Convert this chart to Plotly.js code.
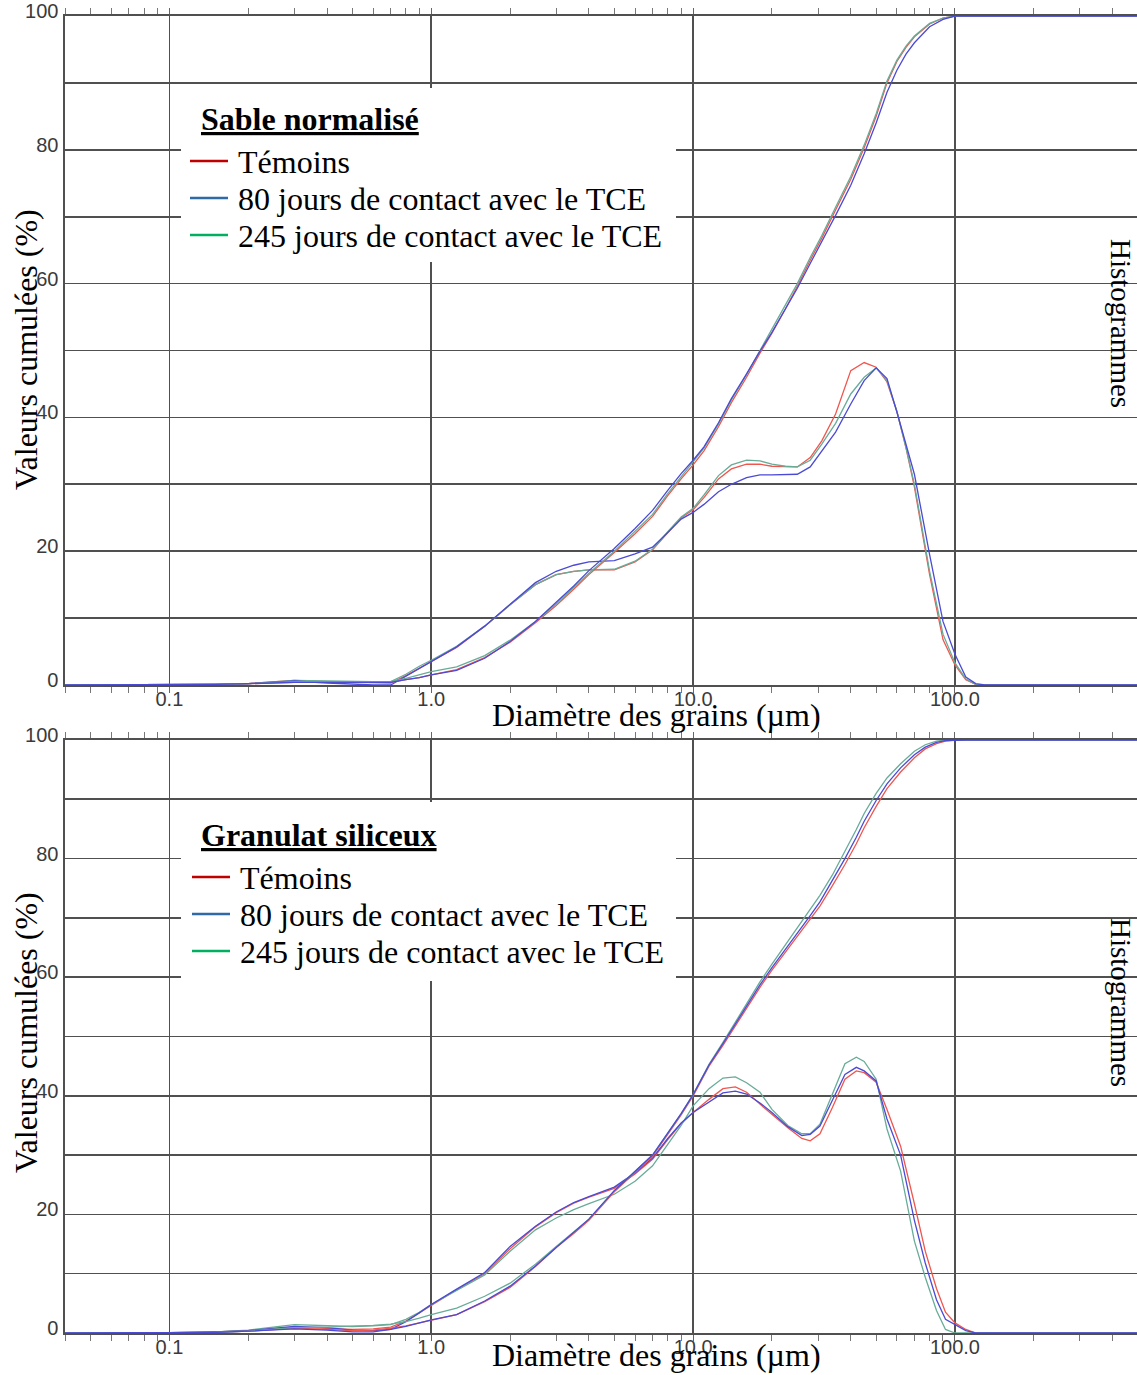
<!DOCTYPE html>
<html>
<head>
<meta charset="utf-8">
<script src="https://cdn.plot.ly/plotly-3.0.1.min.js"></script>
<style>
html,body{margin:0;padding:0;background:#ffffff;}
#chart{width:1137px;height:1375px;}
</style>
</head>
<body>
<div id="chart"></div>
<script>
// ---------------- DATA ----------------
const panelTitles = ['Sable normalisé', 'Granulat siliceux'];
const seriesNames = ['Témoins', '80 jours de contact avec le TCE', '245 jours de contact avec le TCE'];
const xAxisTitle = 'Diamètre des grains (µm)';
const yAxisTitle = 'Valeurs cumulées (%)';
const rightTitle = 'Histogrammes';

// Grain diameters (µm) – top panel (Sable normalisé)
const xSable = [0.04, 0.1, 0.15, 0.2, 0.3, 0.4, 0.5, 0.6, 0.7, 0.8, 0.9, 1.0, 1.25, 1.6, 2.0, 2.5, 3.0, 3.5, 4.0, 5.0,
  6.0, 7.0, 8.0, 9.0, 10, 11, 12.5, 14, 16, 18, 20, 22.5, 25, 28, 31, 35, 40, 45, 50, 55,
  60, 65, 70, 80, 90, 100, 110, 120, 130, 500];

const sableCumTemoins = [0, 0, 0.1, 0.2, 0.4, 0.4, 0.4, 0.4, 0.4, 0.8, 1.1, 1.5, 2.3, 4.1, 6.4, 9.3, 11.9, 14.3, 16.5, 19.8,
  22.6, 25.2, 28.3, 30.8, 32.9, 35.0, 38.6, 42.2, 46.0, 49.6, 52.6, 56.2, 59.6, 63.5, 66.8, 71.0, 75.6, 80.3, 85.0, 90.0,
  93.2, 95.3, 96.9, 98.8, 99.7, 100, 100, 100, 100, 100];
const sableCum80 = [0, 0, 0.1, 0.2, 0.4, 0.4, 0.4, 0.4, 0.4, 0.8, 1.1, 1.5, 2.2, 4.0, 6.5, 9.5, 12.3, 14.8, 17.1, 20.4,
  23.4, 26.1, 29.1, 31.6, 33.6, 35.6, 39.2, 42.8, 46.5, 49.9, 52.7, 56.1, 59.3, 63.0, 66.2, 70.2, 74.7, 79.4, 84.0, 88.6,
  91.9, 94.3, 96.0, 98.4, 99.5, 100, 100, 100, 100, 100];
const sableCum245 = [0, 0, 0.1, 0.2, 0.5, 0.5, 0.5, 0.5, 0.5, 1.0, 1.5, 2.0, 2.7, 4.4, 6.7, 9.5, 12.1, 14.5, 16.7, 20.0,
  22.9, 25.5, 28.6, 31.1, 33.2, 35.4, 39.0, 42.6, 46.4, 50.0, 53.0, 56.6, 60.0, 63.9, 67.2, 71.4, 76.0, 80.7, 85.4, 90.3,
  93.4, 95.5, 97.0, 98.9, 99.7, 100, 100, 100, 100, 100];

const sableHistTemoins = [0, 0, 0.1, 0.2, 0.7, 0.5, 0.4, 0.4, 0.3, 1.4, 2.5, 3.5, 5.6, 8.8, 12.0, 15.0, 16.5, 17.0, 17.2, 17.2,
  18.4, 20.2, 22.8, 25.0, 26.2, 28.0, 30.8, 32.3, 33.0, 33.0, 32.7, 32.6, 32.6, 34.0, 36.5, 40.5, 47.0, 48.2, 47.5, 45.3,
  40.9, 35.5, 29.6, 16.5, 6.8, 3.0, 0.8, 0.1, 0, 0];
const sableHist80 = [0, 0, 0.1, 0.2, 0.6, 0.3, 0.1, 0.0, 0.0, 1.3, 2.4, 3.5, 5.7, 8.8, 12.0, 15.3, 17.0, 17.9, 18.4, 18.6,
  19.6, 20.6, 22.8, 24.8, 25.8, 27.0, 28.9, 30.0, 31.0, 31.4, 31.4, 31.4, 31.5, 32.6, 35.0, 37.8, 42.0, 45.5, 47.4, 45.8,
  40.8, 36.0, 31.5, 19.5, 9.5, 4.6, 1.2, 0.2, 0, 0];
const sableHist245 = [0, 0, 0.1, 0.2, 0.7, 0.6, 0.5, 0.5, 0.5, 1.6, 2.8, 3.7, 5.8, 8.8, 12.0, 15.0, 16.5, 17.0, 17.2, 17.3,
  18.5, 20.3, 22.9, 25.1, 26.4, 28.4, 31.3, 32.9, 33.6, 33.5, 33.0, 32.7, 32.6, 33.6, 36.0, 39.1, 43.5, 46.0, 47.4, 45.5,
  40.9, 35.5, 30.0, 17.0, 7.6, 3.3, 0.9, 0.1, 0, 0];

// Grain diameters (µm) – bottom panel (Granulat siliceux)
const xGranulat = [0.04, 0.1, 0.15, 0.2, 0.3, 0.4, 0.5, 0.6, 0.7, 0.8, 0.9, 1.0, 1.25, 1.6, 2.0, 2.5, 3.0, 3.5, 4.0, 5.0,
  6.0, 7.0, 8.0, 9.0, 10, 11.5, 13, 14.5, 16, 18, 20, 23, 26, 28, 30.5, 34, 38, 42, 45, 50,
  55, 62, 70, 77, 85, 92, 100, 110, 120, 500];

const granCumTemoins = [0, 0, 0.1, 0.3, 0.8, 0.6, 0.4, 0.5, 0.8, 1.2, 1.7, 2.2, 3.1, 5.3, 7.7, 11.2, 14.4, 16.8, 19.0, 23.8,
  27.0, 29.8, 33.5, 36.8, 40.0, 45.0, 48.5, 51.8, 54.8, 58.3, 61.2, 64.8, 68.0, 69.8, 72.0, 75.4, 79.0, 82.5, 85.2, 88.8,
  91.8, 94.6, 97.0, 98.5, 99.4, 99.8, 100, 100, 100, 100];
const granCum80 = [0, 0, 0.1, 0.3, 0.7, 0.5, 0.2, 0.2, 0.6, 1.1, 1.7, 2.2, 3.1, 5.4, 7.9, 11.3, 14.4, 17.0, 19.2, 24.0,
  27.2, 30.0, 33.7, 37.0, 40.2, 45.2, 48.8, 52.1, 55.2, 58.7, 61.6, 65.2, 68.5, 70.4, 72.7, 76.2, 80.0, 83.6, 86.3, 89.8,
  92.6, 95.3, 97.5, 98.8, 99.6, 99.9, 100, 100, 100, 100];
const granCum245 = [0, 0, 0.1, 0.3, 0.9, 1.0, 1.1, 1.3, 1.5, 1.9, 2.5, 3.1, 4.2, 6.2, 8.4, 11.6, 14.6, 17.0, 19.2, 24.0,
  27.2, 30.0, 33.7, 37.0, 40.2, 45.3, 49.0, 52.4, 55.6, 59.2, 62.2, 66.0, 69.4, 71.3, 73.8, 77.2, 81.2, 84.9, 87.6, 91.0,
  93.6, 96.0, 98.1, 99.2, 99.8, 100, 100, 100, 100, 100];

const granHistTemoins = [0, 0.05, 0.2, 0.4, 1.0, 0.8, 0.6, 0.7, 1.0, 2.0, 3.4, 4.7, 7.3, 10.0, 14.2, 17.9, 20.3, 21.9, 22.9, 24.4,
  26.8, 29.3, 32.6, 35.3, 37.2, 39.4, 41.2, 41.5, 40.6, 38.6, 36.9, 34.6, 32.8, 32.4, 33.6, 38.0, 42.8, 44.2, 43.9, 42.3,
  37.7, 31.5, 21.8, 13.8, 7.5, 3.5, 1.7, 0.6, 0, 0];
const granHist80 = [0, 0.05, 0.2, 0.4, 1.1, 0.9, 0.5, 0.4, 0.6, 1.9, 3.4, 4.8, 7.4, 10.2, 14.6, 18.0, 20.4, 22.0, 23.0, 24.6,
  27.0, 29.5, 32.8, 35.4, 37.2, 38.9, 40.5, 40.8, 40.3, 38.8, 37.2, 34.8, 33.3, 33.5, 34.9, 39.2, 43.6, 44.8, 44.2, 42.5,
  36.1, 30.0, 19.0, 11.8, 5.6, 2.3, 1.4, 0.4, 0, 0];
const granHist245 = [0, 0.05, 0.2, 0.5, 1.4, 1.2, 1.1, 1.2, 1.4, 2.3, 3.5, 4.8, 7.2, 9.8, 13.8, 17.4, 19.4, 20.8, 21.8, 23.4,
  25.6, 28.2, 31.8, 35.0, 38.3, 41.2, 43.0, 43.2, 42.2, 40.6, 37.7, 35.0, 33.6, 33.6, 35.2, 40.4, 45.4, 46.5, 45.8, 42.8,
  34.4, 27.3, 15.5, 9.4, 3.8, 0.6, 0, 0, 0, 0];

// ---------------- STYLE ----------------
const lineColors = ['#f0564e', '#4a4ad6', '#68ac98'];      // Témoins, 80 j, 245 j (plot lines)
const legendColors = ['#c00000', '#2e6aa8', '#00b060'];    // legend samples
const drawOrder = [0, 2, 1];
const gridColor = '#505050';
const serif = 'Liberation Serif, Times New Roman, serif';
const sans = 'Liberation Sans, Arial, sans-serif';

const W = 1137, H = 1375, ML = 65;
const PX = p => (p - ML) / (W - ML);
const PY = p => 1 - p / H;

const panels = [
  {x: xSable, cum: [sableCumTemoins, sableCum80, sableCum245], hist: [sableHistTemoins, sableHist80, sableHist245], xa: 'x', ya: 'y'},
  {x: xGranulat, cum: [granCumTemoins, granCum80, granCum245], hist: [granHistTemoins, granHist80, granHist245], xa: 'x2', ya: 'y2'}
];

const traces = [];
panels.forEach(p => {
  ['hist', 'cum'].forEach(kind => {
    drawOrder.forEach(i => {
      traces.push({
        type: 'scatter', mode: 'lines',
        x: p.x, y: p[kind][i],
        xaxis: p.xa, yaxis: p.ya,
        name: seriesNames[i],
        line: {color: lineColors[i], width: 1.3},
        showlegend: false, hoverinfo: 'skip'
      });
    });
  });
});

function xAxisDef(anchor) {
  return {
    type: 'log', range: [Math.log10(0.03993), Math.log10(495.6)], domain: [0, 1], anchor: anchor,
    dtick: 1, tickformat: '.1f',
    showgrid: true, gridcolor: gridColor, gridwidth: 1.6,
    ticks: 'outside', ticklen: 6, tickcolor: '#666', tickwidth: 1,
    minor: {dtick: 'D1', ticks: 'outside', ticklen: 6, tickcolor: '#777', tickwidth: 1, showgrid: false},
    showline: true, linecolor: gridColor, linewidth: 1.6, mirror: 'ticks',
    zeroline: false, fixedrange: true,
    ticklabelstandoff: -11,
    tickfont: {family: sans, size: 20, color: '#3a3a3a'}
  };
}
function yAxisDef(anchor, domain) {
  return {
    range: [0, 100], domain: domain, anchor: anchor,
    tick0: 0, dtick: 20,
    showgrid: true, gridcolor: gridColor, gridwidth: 1.6,
    minor: {dtick: 10, showgrid: true, gridcolor: gridColor, gridwidth: 1.6},
    ticks: '', showline: true, linecolor: gridColor, linewidth: 1.6,
    zeroline: false, fixedrange: true,
    ticklabelstandoff: 1, ticklabelshift: -5,
    tickfont: {family: sans, size: 20, color: '#3a3a3a'}
  };
}

const shapes = [];
const annotations = [];

// legend boxes and entries (one per panel)
const legendGeom = [
  {box: [181, 88, 676, 262], titleY: 119, rowsY: [162, 199, 236], titleX: 199, lineX: [190, 228], textX: 236},
  {box: [181, 802, 676, 981], titleY: 835, rowsY: [878, 915, 952], titleX: 199, lineX: [192, 230], textX: 238}
];
legendGeom.forEach((g, k) => {
  shapes.push({type: 'rect', xref: 'paper', yref: 'paper', layer: 'above',
    x0: PX(g.box[0]), x1: PX(g.box[2]), y0: PY(g.box[3]), y1: PY(g.box[1]),
    fillcolor: '#ffffff', line: {width: 0}});
  annotations.push({xref: 'paper', yref: 'paper', x: PX(g.titleX), y: PY(g.titleY),
    xanchor: 'left', yanchor: 'middle', showarrow: false,
    text: '<b><u>' + panelTitles[k] + '</u></b>',
    font: {family: serif, size: 32, color: '#000'}});
  seriesNames.forEach((name, i) => {
    shapes.push({type: 'line', xref: 'paper', yref: 'paper', layer: 'above',
      x0: PX(g.lineX[0]), x1: PX(g.lineX[1]), y0: PY(g.rowsY[i] - 1), y1: PY(g.rowsY[i] - 1),
      line: {color: legendColors[i], width: 2.5}});
    annotations.push({xref: 'paper', yref: 'paper', x: PX(g.textX), y: PY(g.rowsY[i]),
      xanchor: 'left', yanchor: 'middle', showarrow: false,
      text: name, font: {family: serif, size: 32, color: '#000'}});
  });
});

// axis titles as annotations
const titleGeom = [
  {yTitleY: 350, xTitleY: 715, rightY: 323},
  {yTitleY: 1033, xTitleY: 1355, rightY: 1002}
];
titleGeom.forEach(g => {
  annotations.push({xref: 'paper', yref: 'paper', x: PX(26), y: PY(g.yTitleY), xanchor: 'center', yanchor: 'middle',
    showarrow: false, textangle: -90, text: yAxisTitle, font: {family: serif, size: 32, color: '#000'}});
  annotations.push({xref: 'paper', yref: 'paper', x: PX(656), y: PY(g.xTitleY), xanchor: 'center', yanchor: 'middle',
    showarrow: false, borderpad: 0, text: xAxisTitle, font: {family: serif, size: 32, color: '#000'}});
  annotations.push({xref: 'paper', yref: 'paper', x: PX(1121), y: PY(g.rightY), xanchor: 'center', yanchor: 'middle',
    showarrow: false, textangle: 90, borderpad: 0, text: rightTitle, font: {family: serif, size: 29, color: '#000'}});
});

const layout = {
  width: W, height: H,
  margin: {l: ML, r: 0, t: 0, b: 0, pad: 0},
  paper_bgcolor: '#ffffff', plot_bgcolor: '#ffffff',
  showlegend: false,
  xaxis: xAxisDef('y'),
  yaxis: yAxisDef('x', [PY(685), PY(16)]),
  xaxis2: xAxisDef('y2'),
  yaxis2: yAxisDef('x2', [PY(1333), PY(740)]),
  shapes: shapes,
  annotations: annotations
};

Plotly.newPlot('chart', traces, layout, {staticPlot: true, displayModeBar: false});
</script>
</body>
</html>
